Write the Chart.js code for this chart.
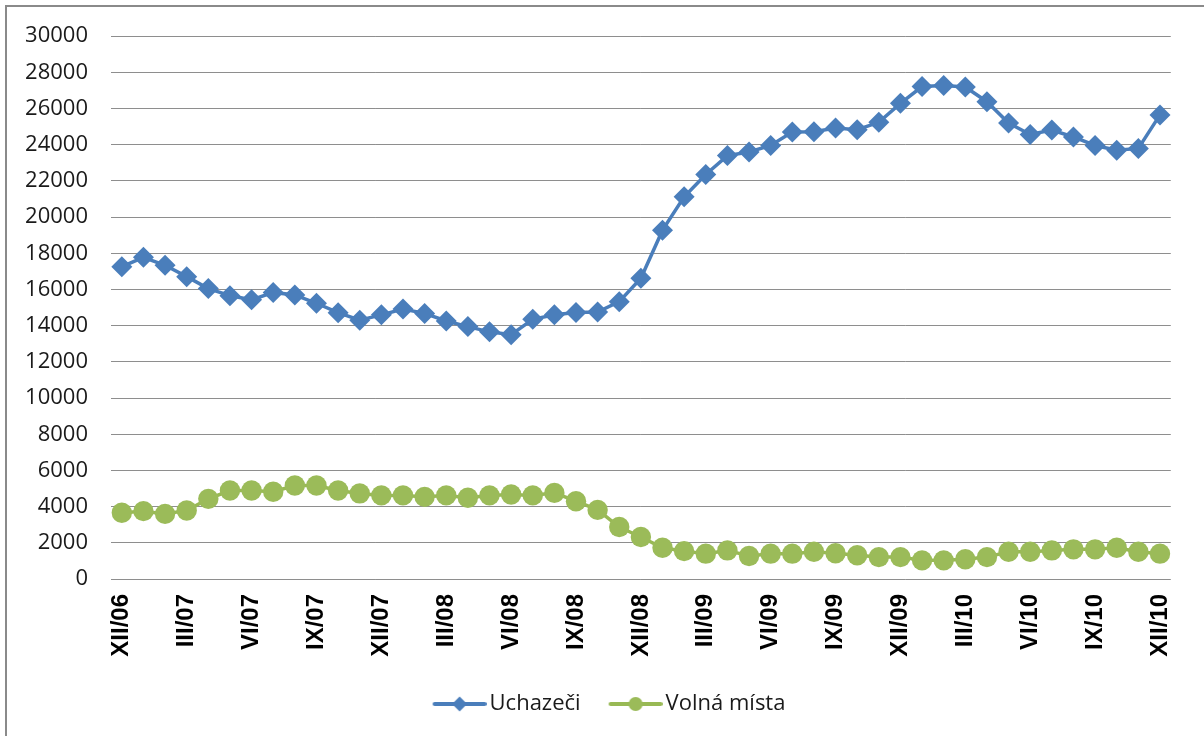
<!DOCTYPE html>
<html>
<head>
<meta charset="utf-8">
<script src="https://cdn.jsdelivr.net/npm/chart.js@4"></script>
<style>
  html, body { margin: 0; padding: 0; background: #ffffff; overflow: hidden; }
  #wrap { position: relative; width: 1204px; height: 736px; }
  #frame { position: absolute; left: 5px; top: 5px; width: 1300px; height: 900px;
           border-left: 2px solid #8a8a8a; border-top: 2px solid #8a8a8a; pointer-events: none; }
  canvas { position: absolute; left: 0; top: 0; }
</style>
</head>
<body>
<div id="wrap">
  <canvas id="c" width="1204" height="736"></canvas>
  <div id="frame"></div>
</div>
<script>
// Categories: monthly from XII/06 to XII/10
const categories = [
  'XII/06',
  'I/07','II/07','III/07','IV/07','V/07','VI/07','VII/07','VIII/07','IX/07','X/07','XI/07','XII/07',
  'I/08','II/08','III/08','IV/08','V/08','VI/08','VII/08','VIII/08','IX/08','X/08','XI/08','XII/08',
  'I/09','II/09','III/09','IV/09','V/09','VI/09','VII/09','VIII/09','IX/09','X/09','XI/09','XII/09',
  'I/10','II/10','III/10','IV/10','V/10','VI/10','VII/10','VIII/10','IX/10','X/10','XI/10','XII/10'
];

const seriesNames = ['Uchazeči', 'Volná místa'];

const uchazeci = [
  17260, 17780, 17340, 16710, 16050, 15660, 15430, 15840, 15700, 15240,
  14720, 14300, 14600, 14920, 14680, 14260, 13950, 13660, 13500, 14350,
  14600, 14730, 14750, 15330, 16620, 19280, 21120, 22360, 23400, 23600,
  23960, 24700, 24720, 24930, 24830, 25240, 26290, 27220, 27270, 27190,
  26380, 25200, 24570, 24810, 24430, 23960, 23700, 23800, 25650
];

const volnaMista = [
  3660, 3750, 3600, 3790, 4430, 4890, 4890, 4820, 5170, 5170,
  4890, 4730, 4620, 4620, 4540, 4620, 4490, 4620, 4670, 4620,
  4760, 4300, 3820, 2870, 2320, 1730, 1540, 1400, 1580, 1270,
  1400, 1400, 1510, 1420, 1310, 1210, 1210, 1030, 1030, 1090,
  1210, 1510, 1510, 1580, 1640, 1640, 1730, 1510, 1400
];

// Tick labels shown on the x axis (every third month)
const xTickLabels = ['XII/06','III/07','VI/07','IX/07','XII/07','III/08','VI/08','IX/08','XII/08',
                     'III/09','VI/09','IX/09','XII/09','III/10','VI/10','IX/10','XII/10'];
const yTicks = [0, 2000, 4000, 6000, 8000, 10000, 12000, 14000, 16000, 18000, 20000, 22000, 24000, 26000, 28000, 30000];

const BLUE_LINE = '#4A7EBB', BLUE_MARK = '#4A7EBB';
const GREEN_LINE = '#98B954', GREEN_MARK = '#9BBB59';

function legendIcon(kind, lineColor, markColor) {
  const c = document.createElement('canvas');
  c.width = 62; c.height = 20;
  const g = c.getContext('2d');
  g.strokeStyle = lineColor; g.lineWidth = 4; g.lineCap = 'round';
  g.beginPath(); g.moveTo(10, 10); g.lineTo(60, 10); g.stroke();
  g.fillStyle = markColor;
  const cx = 35, cy = 10;
  g.beginPath();
  if (kind === 'diamond') {
    g.moveTo(cx, cy - 7.5); g.lineTo(cx + 7.5, cy); g.lineTo(cx, cy + 7.5); g.lineTo(cx - 7.5, cy); g.closePath();
  } else {
    g.arc(cx, cy, 7, 0, Math.PI * 2);
  }
  g.fill();
  return c;
}
const icons = [legendIcon('diamond', BLUE_LINE, BLUE_MARK), legendIcon('circle', GREEN_LINE, GREEN_MARK)];

// Legend is centred under the plot area rather than the full canvas
const legendShift = {
  id: 'legendShift',
  afterUpdate(chart) {
    if (chart.legend) { chart.legend.left += 18; chart.legend.right += 18; }
  }
};

new Chart(document.getElementById('c'), {
  type: 'line',
  data: {
    labels: categories,
    datasets: [
      {
        label: seriesNames[0],
        data: uchazeci,
        borderColor: BLUE_LINE,
        backgroundColor: BLUE_MARK,
        borderWidth: 3.5,
        pointStyle: 'rectRot',
        pointRadius: 10.5,
        pointBorderWidth: 0,
        pointBackgroundColor: BLUE_MARK,
        tension: 0
      },
      {
        label: seriesNames[1],
        data: volnaMista,
        borderColor: GREEN_LINE,
        backgroundColor: GREEN_MARK,
        borderWidth: 3.5,
        pointStyle: 'circle',
        pointRadius: 10.2,
        pointBorderWidth: 0,
        pointBackgroundColor: GREEN_MARK,
        tension: 0
      }
    ]
  },
  plugins: [legendShift],
  options: {
    responsive: false,
    animation: false,
    devicePixelRatio: 1,
    layout: { padding: { left: 0, right: 22, top: 34, bottom: 11 } },
    plugins: {
      tooltip: { enabled: false },
      legend: {
        position: 'bottom',
        labels: {
          usePointStyle: true,
          pointStyleWidth: 46,
          boxHeight: 20,
          padding: 28,
          color: '#1a1a1a',
          font: { family: '"Open Sans", sans-serif', size: 22 },
          generateLabels(chart) {
            const items = Chart.defaults.plugins.legend.labels.generateLabels(chart);
            items.forEach((it, i) => { it.pointStyle = icons[i]; });
            return items;
          }
        }
      }
    },
    scales: {
      x: {
        offset: true,
        grid: { display: false, drawTicks: false },
        border: { display: false },
        afterFit(scale) { scale.height = 86; },
        ticks: {
          autoSkip: false,
          minRotation: 90,
          maxRotation: 90,
          padding: 15,
          color: '#000000',
          font: { family: '"Liberation Sans", Arial, sans-serif', size: 24, weight: 'bold' },
          callback(value, index) {
            const lab = categories[index];
            return xTickLabels.includes(lab) ? lab : '';
          }
        }
      },
      y: {
        min: 0,
        max: 30000,
        afterFit(scale) { scale.width = 111; },
        afterBuildTicks(scale) { scale.ticks = yTicks.map(v => ({ value: v })); },
        grid: { color: '#8e8e8e', lineWidth: 1, drawTicks: false },
        border: { display: false },
        ticks: {
          padding: 23,
          color: '#1a1a1a',
          font: { family: '"Open Sans", sans-serif', size: 22 },
          callback(v) { return String(v); }
        }
      }
    }
  }
});
</script>
</body>
</html>
